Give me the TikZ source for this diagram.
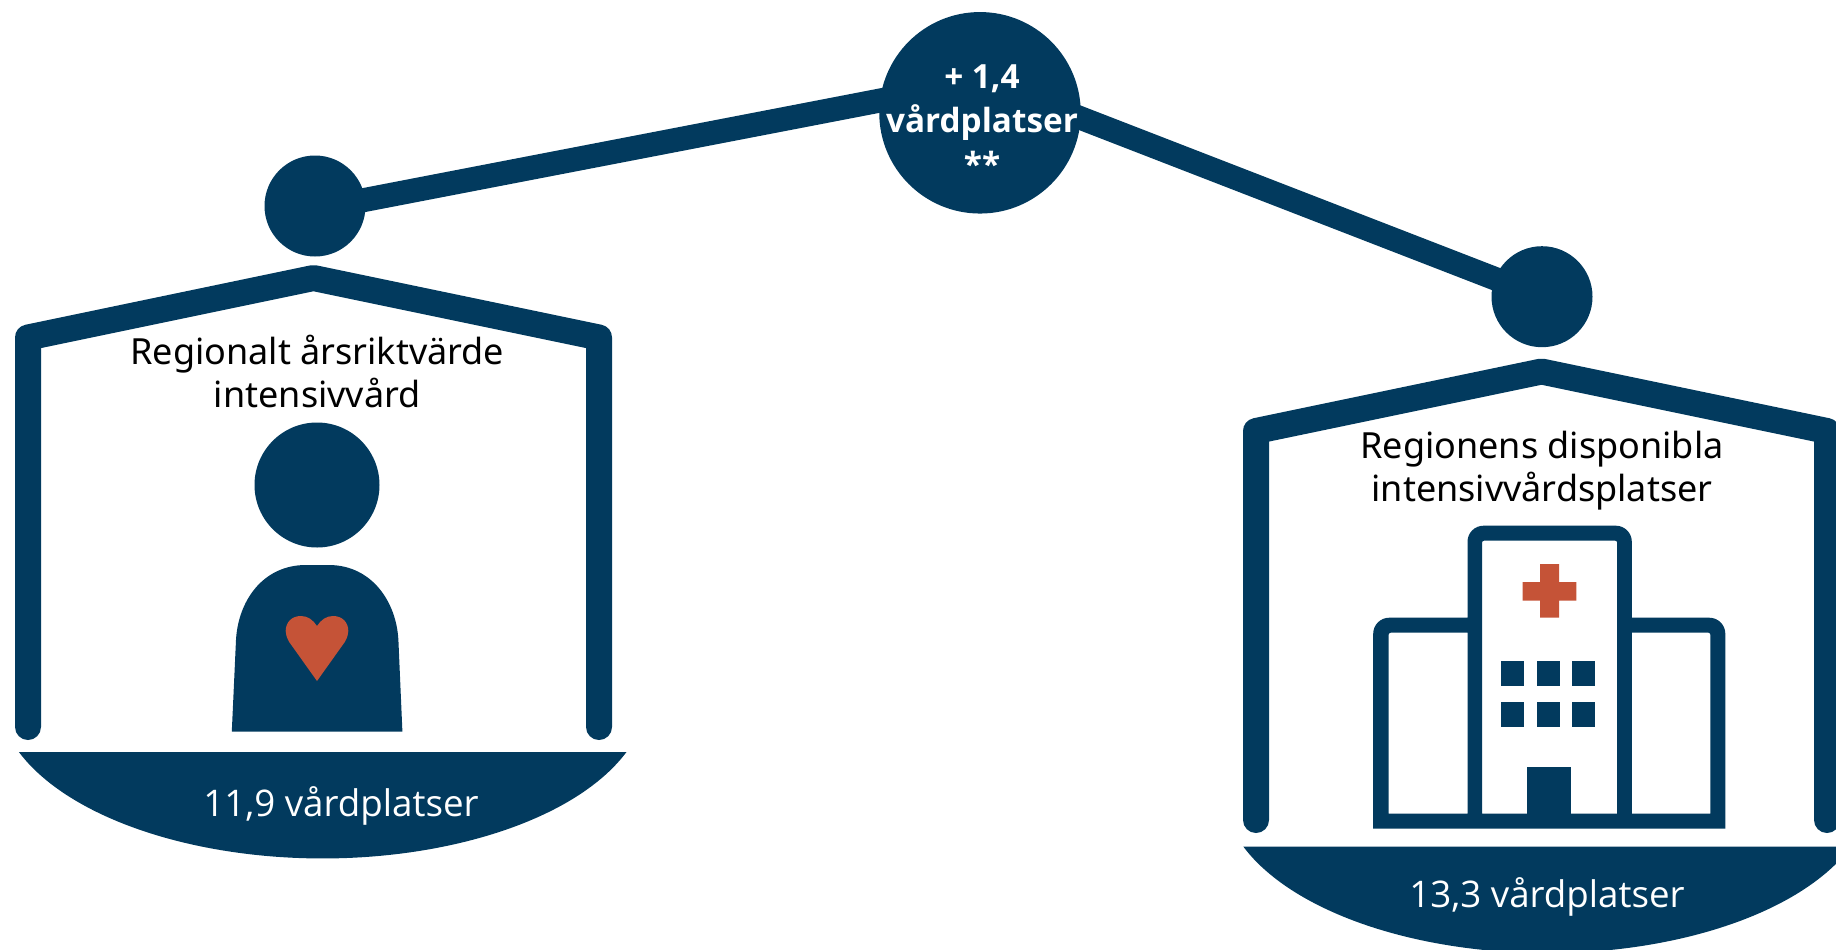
\documentclass[tikz,border=0pt]{standalone}
\usepackage{fontspec}
\setmainfont{Noto Sans}
\newfontfamily\opensans{Open Sans}
\definecolor{navy}{HTML}{023A5E}
\definecolor{rust}{HTML}{C55337}
\tikzset{
  ball/.style={circle,fill=navy,inner sep=0pt,outer sep=0pt},
  beam/.style={draw=navy,line width=24pt,shorten >=-6pt,shorten <=-6pt},
  frame/.style={draw=navy,line width=26pt,line join=round,line cap=round},
  bowl/.style={fill=navy},
  caption/.style={align=center,text=black,inner sep=0pt,font=\fontsize{36}{43}\selectfont},
  amount/.style={text=white,inner sep=0pt,anchor=base,font=\opensans\fontsize{36.7}{42}\selectfont},
  delta/.style={align=center,text=white,inner sep=0pt,font=\opensans\bfseries\fontsize{33.3}{44}\selectfont},
}
\begin{document}
\begin{tikzpicture}[x=1pt,y=-1pt]
\useasboundingbox (0,0) rectangle (1836,950);
\clip (0,0) rectangle (1836,950);
% balls
\node[ball,minimum size=101pt] (lball) at (315,206) {};
\node[ball,minimum size=101pt] (rball) at (1542,296.7) {};
\node[ball,minimum size=201.5pt] (top) at (980,112.8) {};
\draw[beam] (lball.7) -- (top.173.7);
\draw[beam,line width=23.5pt] (top.-3.4) -- (rball.159);
\node[delta] (deltatext) at (982,120.5) {+ 1,4\\vårdplatser\\**};
% left frame
\draw[frame] (28,727) -- (28,337.5) -- (313.5,278) -- (599,337.5) -- (599,727);
\node[caption] (ltext) at (317.3,371.5) {Regionalt årsriktvärde\\intensivvård};
% person
\node[ball,minimum size=125pt] (head) at (317,485) {};
\fill[navy] (231.8,731.7) -- (236,640) .. controls (238,602) and (262,565) .. (306,565) -- (328.6,565)
  .. controls (372,565) and (396.4,602) .. (398.4,640) -- (402.4,731.7) -- cycle;
\fill[rust] (317,681) -- (289,641.7) .. controls (286.5,637) and (285.7,634) .. (285.7,631)
  .. controls (285.7,622) and (292,616) .. (301,616)
  .. controls (308,616) and (313,620) .. (317,626)
  .. controls (321,620) and (326,616) .. (333,616)
  .. controls (342,616) and (348.3,622) .. (348.3,631)
  .. controls (348.3,634) and (347.5,637) .. (345,641.7) -- cycle;
% left bowl
\fill[bowl] (626.5,752) arc[start angle=20.8,end angle=159.2,x radius=325,y radius=165] -- cycle;
\node[amount] (lamount) at (341,816) {11,9 vårdplatser};
% right frame
\draw[frame] (1256,820) -- (1256,431) -- (1541.5,371.5) -- (1827,431) -- (1827,820);
\node[caption] (rtext) at (1542,470.5) {Regionens disponibla\\intensivvårdsplatser};
% hospital
\fill[navy,even odd rule]
  (1373.2,828.7) [rounded corners=16pt] -- (1373.2,617.7) [sharp corners] -- (1467.5,617.7)
  [rounded corners=16pt] -- (1467.5,525.7) -- (1631.8,525.7) [sharp corners] -- (1631.8,617.7)
  [rounded corners=16pt] -- (1725.3,617.7) [sharp corners] -- (1725.3,828.7) -- cycle
  (1388.6,813.7) [rounded corners=2pt] -- (1388.6,632.7) [sharp corners] -- (1467.5,632.7) -- (1467.5,813.7) -- cycle
  (1482,813.7) [rounded corners=2pt] -- (1482,540.7) -- (1617.2,540.7) [sharp corners] -- (1617.2,813.7) -- cycle
  (1631.8,813.7) -- (1631.8,632.7) [rounded corners=2pt] -- (1710.4,632.7) [sharp corners] -- (1710.4,813.7) -- cycle;
\fill[navy] (1526.9,767) rectangle (1570.9,814);
\fill[navy] (1501.3,661) rectangle (1524,685.7);
\fill[navy] (1537,661) rectangle (1560,685.7);
\fill[navy] (1572,661) rectangle (1595.2,685.7);
\fill[navy] (1501.3,702) rectangle (1524,726.7);
\fill[navy] (1537,702) rectangle (1560,726.7);
\fill[navy] (1572,702) rectangle (1595.2,726.7);
\fill[rust] (1540.2,564) -- (1559,564) -- (1559,582) -- (1576.4,582) -- (1576.4,600.7) -- (1559,600.7)
  -- (1559,617.7) -- (1540.2,617.7) -- (1540.2,600.7) -- (1522.5,600.7) -- (1522.5,582) -- (1540.2,582) -- cycle;
% right bowl
\fill[bowl] (1851,846.7) arc[start angle=20.8,end angle=159.2,x radius=325,y radius=165] -- cycle;
\node[amount] (ramount) at (1547,907) {13,3 vårdplatser};
\end{tikzpicture}
\end{document}
